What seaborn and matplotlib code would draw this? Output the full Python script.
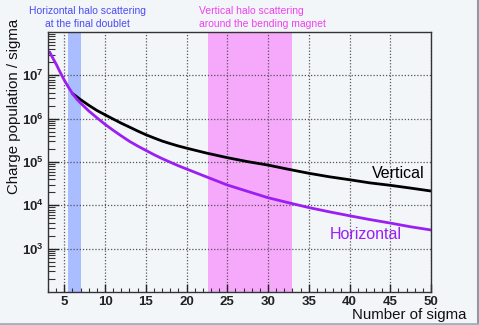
import matplotlib
matplotlib.use("Agg")
import matplotlib.pyplot as plt
import matplotlib.ticker as mticker
from matplotlib.lines import Line2D
import pandas as pd
import seaborn as sns

# values
vert_sigma = [6.0, 6.5, 7, 7.5, 8, 9, 10, 11, 12, 13, 14, 15, 16, 17, 18, 19,
              20, 22.5, 25, 27.5, 30, 32.5, 35, 37.5, 40, 42.5, 45, 47.5, 50]
vert_charge = [3.8e6, 3.24e6, 2.75e6, 2.37e6, 2.04e6, 1.55e6, 1.23e6, 9.8e5,
               7.85e5, 6.4e5, 5.2e5, 4.27e5, 3.6e5, 3.05e5, 2.66e5, 2.34e5,
               2.09e5, 1.6e5, 1.26e5, 1.02e5, 8.5e4, 6.8e4, 5.5e4, 4.57e4,
               3.9e4, 3.3e4, 2.9e4, 2.5e4, 2.14e4]
horiz_sigma = [3.2, 3.5, 4, 4.5, 5, 5.5, 6, 6.5, 7, 7.5, 8, 9, 10, 11, 12,
               13, 14, 15, 16, 17, 18, 19, 20, 22.5, 25, 27.5, 30, 32.5, 35,
               37.5, 40, 42.5, 45, 47.5, 50]
horiz_charge = [3.47e7, 2.69e7, 1.82e7, 1.17e7, 7.76e6, 5.37e6, 3.8e6,
                2.88e6, 2.29e6, 1.86e6, 1.51e6, 1.05e6, 7.4e5, 5.4e5, 4.0e5,
                3.0e5, 2.34e5, 1.86e5, 1.48e5, 1.2e5, 9.9e4, 8.2e4, 6.9e4,
                4.5e4, 2.95e4, 2.1e4, 1.5e4, 1.15e4, 8.9e3, 7.1e3, 5.75e3,
                4.7e3, 3.9e3, 3.2e3, 2.7e3]
doublet_band = (5.5, 7.0)
magnet_band = (22.6, 33.0)
x_ticks = [5, 10, 15, 20, 25, 30, 35, 40, 45, 50]
y_ticks = [1e3, 1e4, 1e5, 1e6, 1e7]
y_tick_labels = [r'$\mathbf{10^{3}}$', r'$\mathbf{10^{4}}$', r'$\mathbf{10^{5}}$',
                 r'$\mathbf{10^{6}}$', r'$\mathbf{10^{7}}$']

bg = '#f3f6f9'
purple = '#9b1ff2'
blue_txt = '#4a4af5'
pink_txt = '#f040f0'


def main():
    sns.set_theme(style="ticks")
    plt.rcParams['font.family'] = ['Liberation Sans', 'DejaVu Sans']
    plt.rcParams['mathtext.fontset'] = 'custom'
    plt.rcParams['mathtext.rm'] = 'Liberation Sans'
    plt.rcParams['mathtext.bf'] = 'Liberation Sans:bold'

    df = pd.concat([
        pd.DataFrame({"sigma": vert_sigma, "charge": vert_charge,
                      "plane": "Vertical"}),
        pd.DataFrame({"sigma": horiz_sigma, "charge": horiz_charge,
                      "plane": "Horizontal"}),
    ])

    fig = plt.figure(figsize=(4.79, 3.25), dpi=100, facecolor=bg)
    ax = fig.add_axes([0.1002, 0.1015, 0.7996, 0.80])
    ax.set_facecolor(bg)

    ax.axvspan(*doublet_band, color='#a9bdff', lw=0, zorder=0.5)
    ax.axvspan(*magnet_band, color='#f6a8fb', lw=0, zorder=0.5)

    sns.lineplot(data=df, x="sigma", y="charge", hue="plane",
                 hue_order=["Vertical", "Horizontal"],
                 palette={"Vertical": "black", "Horizontal": purple},
                 linewidth=2, legend=False, ax=ax, zorder=3)

    ax.set_yscale('log')
    ax.set_xlim(3, 50)
    ax.set_ylim(1e2, 1e8)
    ax.set_xticks(x_ticks)
    ax.set_xticklabels([str(v) for v in x_ticks], fontweight='bold')
    ax.xaxis.set_minor_locator(mticker.MultipleLocator(1))
    ax.set_yticks(y_ticks)
    ax.set_yticklabels(y_tick_labels)
    ax.yaxis.set_minor_locator(mticker.LogLocator(base=10, subs=range(2, 10), numticks=20))
    ax.yaxis.set_minor_formatter(mticker.NullFormatter())

    ax.tick_params(axis='both', which='major', direction='in', length=6,
                   width=1, labelsize=9.5, colors='#222222', pad=3)
    ax.tick_params(axis='both', which='minor', direction='in', length=3,
                   width=0.8, colors='#333333')
    ax.tick_params(axis='y', which='major', length=8)
    ax.tick_params(axis='y', which='minor', length=5)

    ax.grid(True, which='major', linestyle=(0, (1, 1.5)), color='#555555',
            linewidth=0.9, zorder=1)
    ax.set_axisbelow(False)
    for s in ax.spines.values():
        s.set_color('#333333')
        s.set_linewidth(1)
        s.set_zorder(4)

    ax.set_xlabel("Number of sigma", fontsize=10.8, color='#111111')
    ax.xaxis.set_label_coords(1.093, -0.063)
    ax.xaxis.label.set_horizontalalignment('right')
    ax.set_ylabel("Charge population / sigma", fontsize=10.8, color='#111111')
    ax.yaxis.set_label_coords(-0.088, 1.05)
    ax.yaxis.label.set_horizontalalignment('right')
    ax.yaxis.label.set_verticalalignment('center')

    ax.text(0.984, 0.455, "Vertical", transform=ax.transAxes, ha='right',
            va='center', fontsize=11.5, color='black')
    ax.text(0.924, 0.223, "Horizontal", transform=ax.transAxes, ha='right',
            va='center', fontsize=11.5, color=purple)

    fig.text(0.183, 0.965, "Horizontal halo scattering", ha='center',
             va='center', fontsize=7.5, color=blue_txt)
    fig.text(0.183, 0.927, "at the final doublet", ha='center',
             va='center', fontsize=7.5, color=blue_txt)
    fig.text(0.416, 0.965, "Vertical halo scattering", ha='left',
             va='center', fontsize=7.5, color=pink_txt)
    fig.text(0.416, 0.927, "around the bending magnet", ha='left',
             va='center', fontsize=7.5, color=pink_txt)

    # frame shadow on the right and bottom edges
    fig.lines.append(Line2D([0.997, 0.997], [0.0, 1.0], transform=fig.transFigure,
                            color='#8c9aa6', lw=1.5))
    fig.lines.append(Line2D([0.0, 1.0], [0.004, 0.004], transform=fig.transFigure,
                            color='#9fb0be', lw=2))

    plt.savefig("out.png", dpi=100, facecolor=bg)
    plt.close()


if __name__ == '__main__':
    main()
